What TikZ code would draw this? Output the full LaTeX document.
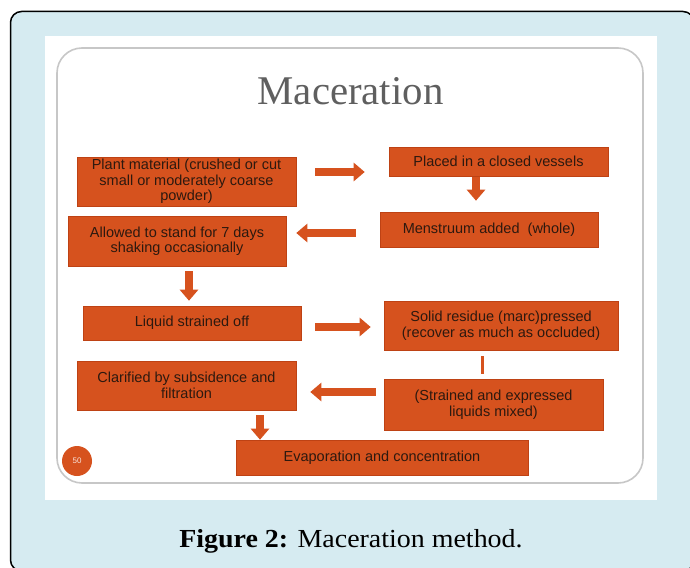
\documentclass[tikz,border=0pt]{standalone}
\usepackage{fontspec}
\setmainfont{Liberation Serif}
\newfontfamily\arialf{Liberation Sans}
\usetikzlibrary{arrows.meta,calc}
\definecolor{bluebg}{RGB}{214,235,241}
\definecolor{boxorange}{RGB}{214,82,30}
\definecolor{boxedge}{RGB}{190,66,20}
\definecolor{boxtext}{RGB}{45,25,15}
\definecolor{titlegray}{RGB}{95,95,95}
\tikzset{
  procbox/.style={rectangle, fill=boxorange, draw=boxedge, line width=0.6pt, text=boxtext,
    font=\arialf\fontsize{14.5}{15.5}\selectfont, align=center, inner sep=0pt},
  barrow/.style={draw=boxorange, line width=8pt,
    -{Triangle[width=18pt,length=11pt,color=boxorange]}},
  thinconn/.style={draw=boxorange, line width=3pt}
}
\begin{document}
\begin{tikzpicture}[x=1pt,y=-1pt]
\useasboundingbox (0,0) rectangle (690,567);
% outer frame
\draw[line width=1.5pt, fill=bluebg, rounded corners=11pt] (10.5,11.5) rectangle (694,571);
% slide
\fill[white] (45,36) rectangle (657,500);
\draw[black!22, line width=1.6pt, rounded corners=25pt] (57,48) rectangle (643,483);
% title
\node[anchor=base, text=titlegray, font=\fontsize{40.8}{45}\selectfont, inner sep=0pt] (title) at (350.5,105) {Maceration};
% boxes
\node[procbox, minimum width=219pt, minimum height=49pt] (plant) at (186.5,181.5)
  {Plant material (crushed or cut\\small or moderately coarse\\powder)};
\node[procbox, minimum width=219pt, minimum height=29pt] (placed) at (498.5,161.5)
  {Placed in a closed vessels};
\node[procbox, minimum width=218pt, minimum height=35pt] (menstruum) at (489,229.5)
  {Menstruum added\ \ (whole)};
\node[procbox, minimum width=218pt, minimum height=50pt] (allowed) at (177,241)
  {Allowed to stand for 7 days\\shaking occasionally};
\node[procbox, minimum width=218pt, minimum height=34pt] (liquid) at (192,323)
  {Liquid strained off};
\node[procbox, minimum width=234pt, minimum height=49pt] (solid) at (501,325.5)
  {Solid residue (marc)pressed\\(recover as much as occluded)};
\node[procbox, minimum width=219pt, minimum height=49pt] (clarified) at (186.5,385.5)
  {Clarified by subsidence and\\filtration};
\node[procbox, minimum width=219pt, minimum height=51pt] (strained) at (493.5,404.5)
  {(Strained and expressed\\liquids mixed)};
\node[procbox, minimum width=292pt, minimum height=35pt] (evap) at (382,457.5)
  {Evaporation and concentration};
% slide number
\node[circle, fill=boxorange, minimum size=30pt, inner sep=0pt, text=white!85!boxorange,
  font=\arialf\fontsize{8}{9}\selectfont] (num) at (77,461) {50};
% arrows
\draw[barrow] ($(plant.east)+(19,-9.5)$) -- ($(placed.west)+(-24,10.5)$);
\draw[barrow] ($(placed.south)+(-22.5,1)$) -- ($(menstruum.north)+(-13,-11)$);
\draw[barrow] ($(menstruum.west)+(-24,3.5)$) -- ($(allowed.east)+(10,-8)$);
\draw[barrow] ($(allowed.south)+(12,5)$) -- ($(liquid.north)+(-3,-5)$);
\draw[barrow] ($(liquid.east)+(14,4)$) -- ($(solid.west)+(-13,1.5)$);
\draw[thinconn] ($(solid.south)+(-19,6)$) -- ($(strained.north)+(-11.5,-5)$);
\draw[barrow] ($(strained.west)+(-8,-12.5)$) -- ($(clarified.east)+(14,6.5)$);
\draw[barrow] ($(clarified.south)+(73.5,5)$) -- ($(evap.north)+(-122,0)$);
% caption
\node[anchor=base, font=\fontsize{26}{30}\selectfont, inner sep=0pt] (caption) at (351,547)
  {\scalebox{1.075}[1]{\textbf{Figure 2:} Maceration method.}};
\end{tikzpicture}
\end{document}
